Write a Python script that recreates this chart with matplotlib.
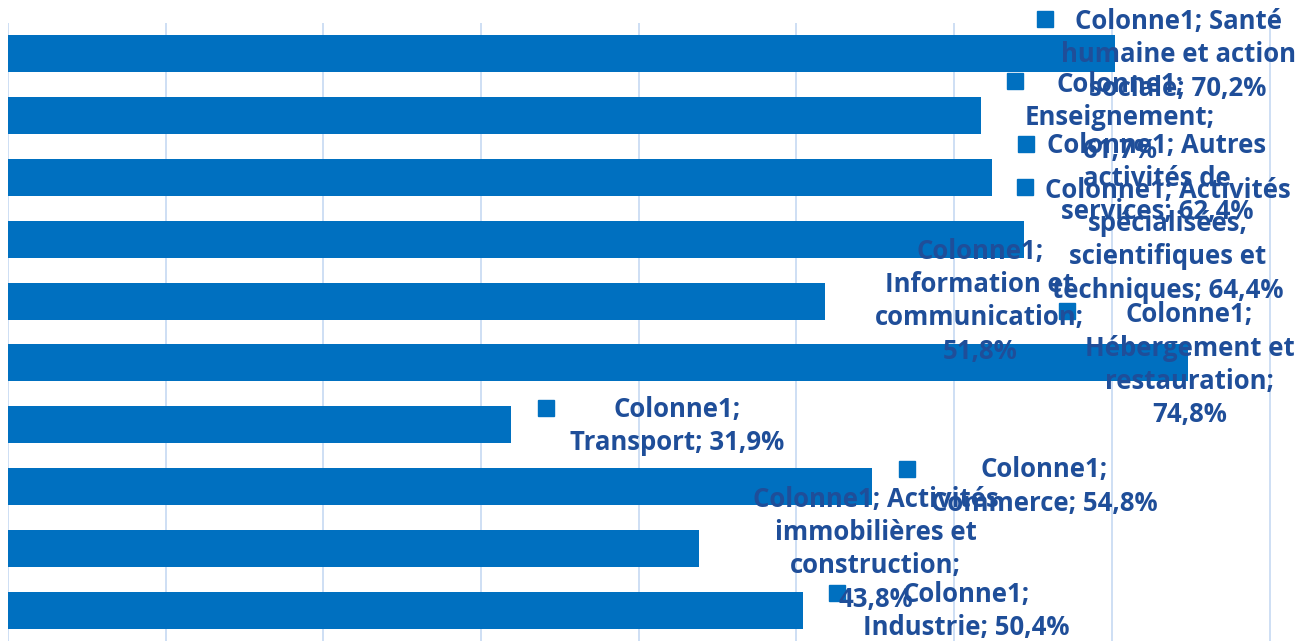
import matplotlib
matplotlib.use("Agg")
import matplotlib.pyplot as plt
from matplotlib.transforms import ScaledTranslation

# ---- data (bottom to top, Excel category order) ----
series_name = "Colonne1"
categories = [
    "Industrie",
    "Activités immobilières et construction",
    "Commerce",
    "Transport",
    "Hébergement et restauration",
    "Information et communication",
    "Activités spécialisées, scientifiques et techniques",
    "Autres activités de services",
    "Enseignement",
    "Santé humaine et action sociale",
]
values = [50.4, 43.8, 54.8, 31.9, 74.8, 51.8, 64.4, 62.4, 61.7, 70.2]
x_ticks = [0, 10, 20, 30, 40, 50, 60, 70, 80]

# label line-wrapping (text layout, as shown in the chart)
wrapped_categories = [
    "\nIndustrie",
    " Activités\nimmobilières et\nconstruction;\n",
    "\nCommerce",
    "\nTransport",
    "\nHébergement et\nrestauration;\n",
    "\nInformation et\ncommunication;\n",
    " Activités\nspécialisées,\nscientifiques et\ntechniques",
    " Autres\nactivités de\nservices",
    "\nEnseignement;\n",
    " Santé\nhumaine et action\nsociale",
]

# label placement (pixel offsets from bar end / bar centre) -- layout only
text_offsets = [(163, -1), (177, -1), (172, 0), (166, -1), (2, -2),
                (155, 0), (144, -1), (165, -1), (139, -2), (63, -1)]
key_offsets = [(34, 17), (31, 61), (35, 18), (35, 17), (-121, 52),
               (70, 61), (1, 52), (34, 34), (34, 35), (-70, 35)]

BAR = "#0070C0"
TXT = "#1F4E99"
GRID = "#CADCF3"


def fmt(v):
    return f"{v:.1f}".replace(".", ",") + "%"


def make_label(cat_wrapped, v):
    if cat_wrapped.endswith("\n"):
        return f"{series_name};{cat_wrapped}{fmt(v)}"
    return f"{series_name};{cat_wrapped}; {fmt(v)}"


W, H = 1297, 641
fig = plt.figure(figsize=(W / 100, H / 100), dpi=100)
ax = fig.add_axes([8 / W, 0, (W - 8) / W, (H - 23) / H])

y = list(range(len(categories)))
ax.barh(y, values, height=0.6, color=BAR, zorder=2)
ax.set_ylim(-0.5, len(categories) - 0.5)
ax.set_xlim(0, 81.74)
ax.set_xticks(x_ticks)
ax.grid(axis="x", color=GRID, lw=1.3, zorder=0)
ax.set_yticks([])
ax.tick_params(axis="x", length=0, labelbottom=False)
for s in ax.spines.values():
    s.set_visible(False)

for i, (cat, v) in enumerate(zip(wrapped_categories, values)):
    dx, dy = text_offsets[i]
    ax.annotate(make_label(cat, v), xy=(v, i), xytext=(dx, dy),
                textcoords="offset pixels", ha="center", va="center",
                multialignment="center", fontsize=18.5, fontweight="bold",
                color=TXT, family="Open Sans", linespacing=1.3,
                annotation_clip=False, zorder=5)
    kx, ky = key_offsets[i]
    ax.plot([v], [i], marker="s", markersize=11.5, color=BAR,
            linestyle="none", clip_on=False, zorder=1.5,
            transform=ax.transData + ScaledTranslation(
                kx / 100, ky / 100, fig.dpi_scale_trans))

fig.savefig("out.png", dpi=100)
